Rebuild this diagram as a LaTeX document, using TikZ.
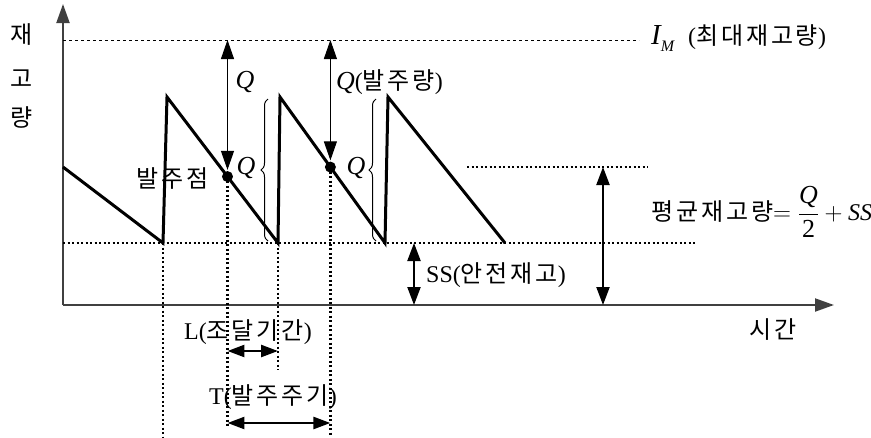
\documentclass[tikz,border=0pt]{standalone}
\usepackage{fontspec}
\setmainfont{Liberation Serif}
\newfontfamily\kr[LetterSpace=12]{Noto Sans CJK KR}
\newcommand{\qq}{{\fontsize{26}{28}\selectfont\itshape Q}}
\usetikzlibrary{arrows.meta,decorations.pathreplacing,calc}
\begin{document}
\begin{tikzpicture}[x=1pt,y=-1pt,
  every node/.style={inner sep=0pt, font=\fontsize{24}{28}\selectfont},
  axis/.style={line width=2pt, draw=black!75, -{Triangle[length=19pt,width=13pt]}},
  saw/.style={line width=3pt, line join=miter},
  thindash/.style={line width=0.9pt, dash pattern=on 3pt off 3pt},
  dotline/.style={line width=2.2pt, dash pattern=on 2pt off 2.5pt},
  qarrow/.style={line width=1pt, {Triangle[length=19pt,width=13pt]}-{Triangle[length=19pt,width=13pt]}},
  bigarrow/.style={line width=2.2pt, {Triangle[length=18pt,width=13pt]}-{Triangle[length=18pt,width=13pt]}},
  midarrow/.style={line width=2.5pt, {Triangle[length=17pt,width=12pt]}-{Triangle[length=17pt,width=12pt]}},
  brc/.style={decorate, decoration={brace, amplitude=7pt}, line width=1pt},
  dotmark/.style={circle, fill=black, minimum size=11pt}
]
\useasboundingbox (0,0) rectangle (871,437);
% coordinates
\coordinate (O) at (63,305);
\coordinate (ytop) at (63,4);
\coordinate (xend) at (834,305);
\coordinate (topL) at (63,40);
\coordinate (topR) at (639,40);
\coordinate (ssL) at (63,243);
\coordinate (ssR) at (695,243);
\coordinate (avL) at (467,167);
\coordinate (avR) at (648,167);
\coordinate (s0) at (63,167);
\coordinate (s1) at (163,243);
\coordinate (s2) at (167,97);
\coordinate (s3) at (278,243);
\coordinate (s4) at (280,97);
\coordinate (s5) at (385,243);
\coordinate (s6) at (388,97);
\coordinate (s7) at (505,243);
% axes
\draw[axis] (O) -- (ytop);
\draw[axis] (O) -- (xend);
% reference lines
\draw[thindash] (topL) -- (topR);
\draw[dotline] (ssL) -- (ssR);
\draw[dotline] (avL) -- (avR);
% sawtooth
\draw[saw] (s0) -- (s1) -- (s2) -- (s3) -- (s4) -- (s5) -- (s6) -- (s7);
% reorder points
\node[dotmark] (d1) at ($(s2)!0.545!(s3)$) {};
\node[dotmark] (d2) at ($(s4)!0.48!(s5)$) {};
% vertical dotted lines
\coordinate (v1b) at (163,437);
\coordinate (v2b) at (d1 |- 0,426);
\coordinate (v3b) at (278,370);
\coordinate (v4b) at (d2 |- 0,437);
\draw[dotline] (s1) -- (v1b);
\draw[dotline] (d1.center) -- (v2b);
\draw[dotline] (s3) -- (v3b);
\draw[dotline] (d2.center) -- (v4b);
% Q arrows
\coordinate (q1t) at (d1 |- topL);
\coordinate (q2t) at (d2 |- topL);
\draw[qarrow, shorten >=1pt] (q1t) -- (d1.north);
\draw[qarrow, shorten >=1pt] (q2t) -- (d2.north);
% braces
\coordinate (b1a) at (268,241);
\coordinate (b1b) at (268,99);
\coordinate (b2a) at (376,241);
\coordinate (b2b) at (376,99);
\draw[brc] (b1a) -- (b1b);
\draw[brc] (b2a) -- (b2b);
% SS and average arrows
\coordinate (ssa) at (414,243);
\coordinate (ssb) at (414,305);
\draw[bigarrow] (ssa) -- (ssb);
\coordinate (ava) at (603,167);
\coordinate (avb) at (603,305);
\draw[bigarrow] (ava) -- (avb);
% L and T arrows
\coordinate (La) at (d1 |- 0,351);
\coordinate (Lb) at (278,351);
\draw[midarrow] (La) -- (Lb);
\coordinate (Ta) at (d1 |- 0,423);
\coordinate (Tb) at (d2 |- 0,423);
\draw[midarrow] (Ta) -- (Tb);
% labels
\node (y1) at (22,35) {\kr 재};
\node (y2) at (22,79) {\kr 고};
\node (y3) at (22,117) {\kr 량};
\node[anchor=east] (lbp) at (209,178) {\kr 발주점};
\node (lq1) at (245,82) {\qq};
\node[anchor=west] (lq2) at (336,82) {\qq({\kr 발주량})};
\node (lq3) at (246,168) {\qq};
\node (lq4) at (356,168) {\qq};
\node[anchor=west] (lim) at (651,38) {{\fontsize{29}{30}\selectfont\itshape I}\raisebox{-7pt}{\fontsize{16}{16}\selectfont\itshape M}\hspace{14pt}({\kr 최대재고량})};
\node[anchor=west] (lss) at (426,275) {SS({\kr 안전재고})};
\node[anchor=west] (lavg) at (651,212) {{\kr 평균재고량}$\displaystyle =\frac{\mbox{\qq}}{\mbox{\fontsize{26}{28}\selectfont 2}}+\mbox{\itshape SS}$};
\node (ltime) at (773,330) {\kr 시간};
\node (lL) at (248,332) {L({\kr 조달기간})};
\node (lT) at (273,397) {T({\kr 발주주기})};
\end{tikzpicture}
\end{document}
